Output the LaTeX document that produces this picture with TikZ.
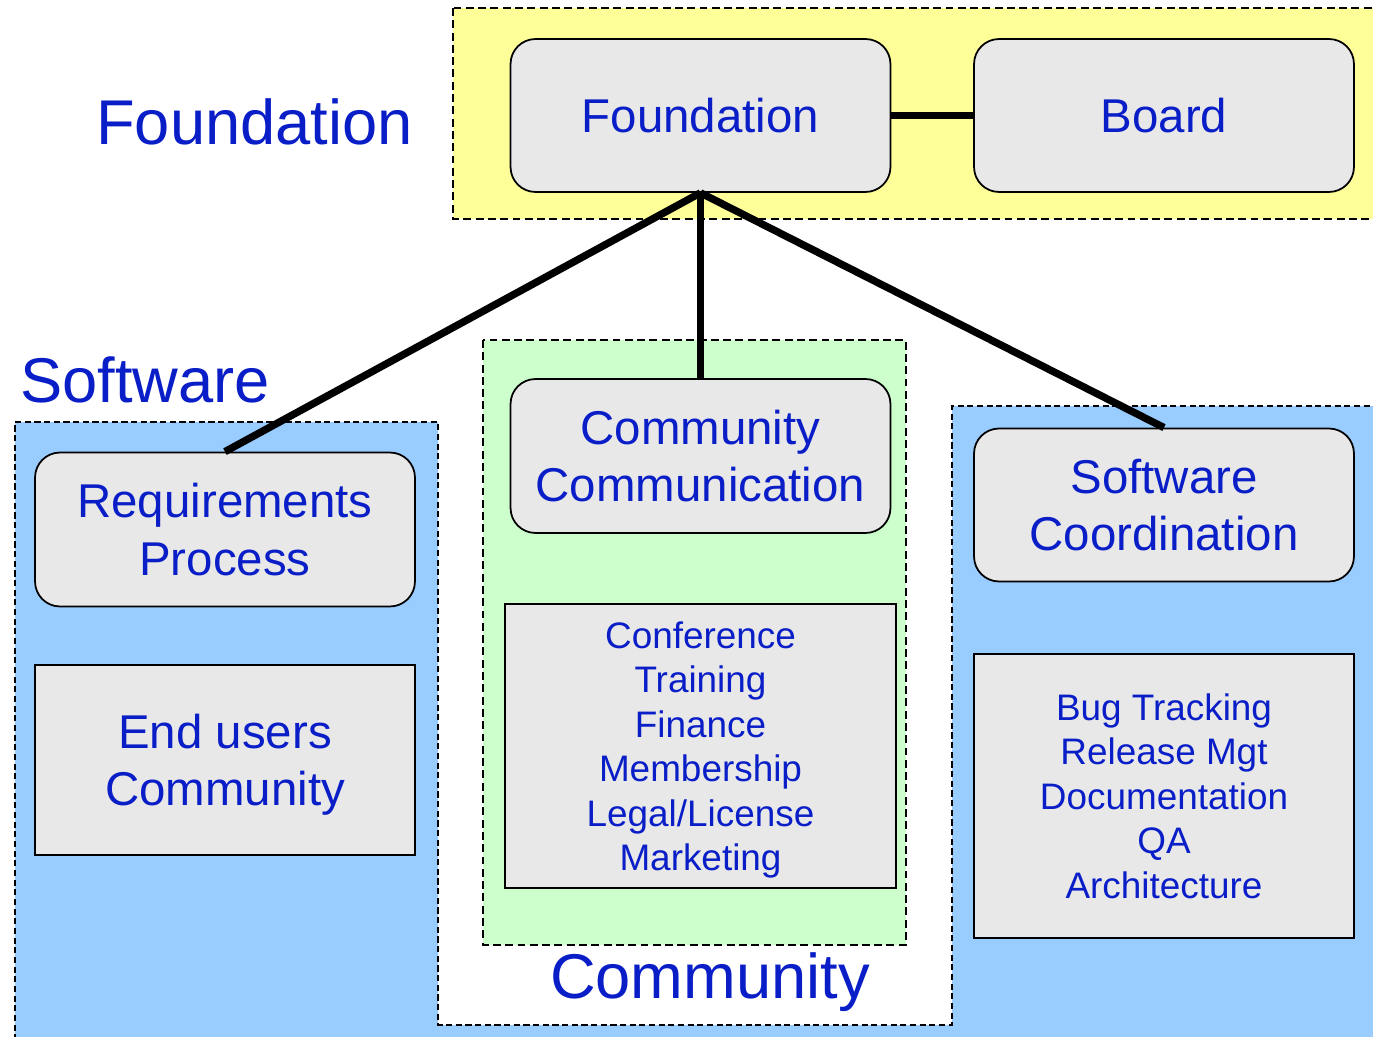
\documentclass[tikz,border=0pt]{standalone}
\usepackage{fontspec}
\setmainfont{Liberation Sans}
\usepackage{xcolor}
\definecolor{labelblue}{RGB}{10,30,200}
\definecolor{boxgrey}{RGB}{232,232,232}
\definecolor{foundyellow}{RGB}{255,255,153}
\definecolor{commgreen}{RGB}{204,255,204}
\definecolor{softblue}{RGB}{153,204,255}
\tikzset{
    team/.style={
        draw,
        rounded corners=0.5cm,
        fill=boxgrey,
        line width=1pt,
        minimum width=7.6cm,
        minimum height=3.06cm,
        inner sep=0pt,
        align=center,
        text=labelblue,
        font=\fontsize{27}{32.5}\selectfont
    },
    tasks/.style={
        draw,
        fill=boxgrey,
        line width=1.1pt,
        minimum width=7.6cm,
        minimum height=5.68cm,
        inner sep=0pt,
        text depth=0pt,
        align=center,
        text=labelblue,
        font=\fontsize{21}{25.3}\selectfont
    },
    area/.style={anchor=base,text=labelblue,font=\fontsize{36}{43}\selectfont},
    link/.style={line width=4.2pt},
    zone/.style={line width=1.1pt,dash pattern=on 4.5pt off 2.5pt}
}

\begin{document}
\begin{tikzpicture}[x=0.02cm,y=-0.02cm]
    \useasboundingbox (0,0) rectangle (1373,1037);
    \clip (0,0) rectangle (1373,1037);
    % areas
    \draw[zone,fill=foundyellow] (453,8) rectangle (1390,219);
    \draw[zone,line width=0.9pt,dash pattern=on 3.5pt off 2pt,fill=softblue]
        (15,1050) -- (15,422) -- (438,422) -- (438,1025) -- (952,1025)
        -- (952,406) -- (1390,406) -- (1390,1050) -- cycle;
    \draw[zone,line width=1.5pt,fill=commgreen] (483,340) rectangle (906,945);
    \node[area] (foundlabel) at (254.5,145) {Foundation};
    \node[area] (softlabel) at (145,402) {Software};
    \node[area] (commlabel) at (710,998) {Community};
    % boxes
    \node[team] (found) at (700.5,115.5) {Foundation};
    \node[team] (board) at (1164,115.5) {Board};
    \node[team,minimum height=3.08cm] (req) at (225,529.5) {Requirements\\Process};
    \node[team,minimum height=3.08cm] (comm) at (700.5,456) {Community\\Communication};
    \node[team,minimum height=3.06cm] (coord) at (1164,505) {Software\\Coordination};
    \node[tasks,minimum height=3.8cm,font=\fontsize{27}{32.5}\selectfont] (users) at (225,760) {End users\\Community};
    \node[tasks,minimum width=7.82cm] (commtasks) at (700.5,746)
        {Conference\\Training\\Finance\\Membership\\Legal/License\\Marketing};
    \node[tasks] (softtasks) at (1164,796)
        {Bug Tracking\\Release Mgt\\Documentation\\QA\\Architecture};
    % links
    \draw[link] (found) -- (board);
    \draw[link] (found.south) -- (req.north);
    \draw[link] (found.south) -- (comm.north);
    \draw[link] (found.south) -- (coord.north);
\end{tikzpicture}
\end{document}
